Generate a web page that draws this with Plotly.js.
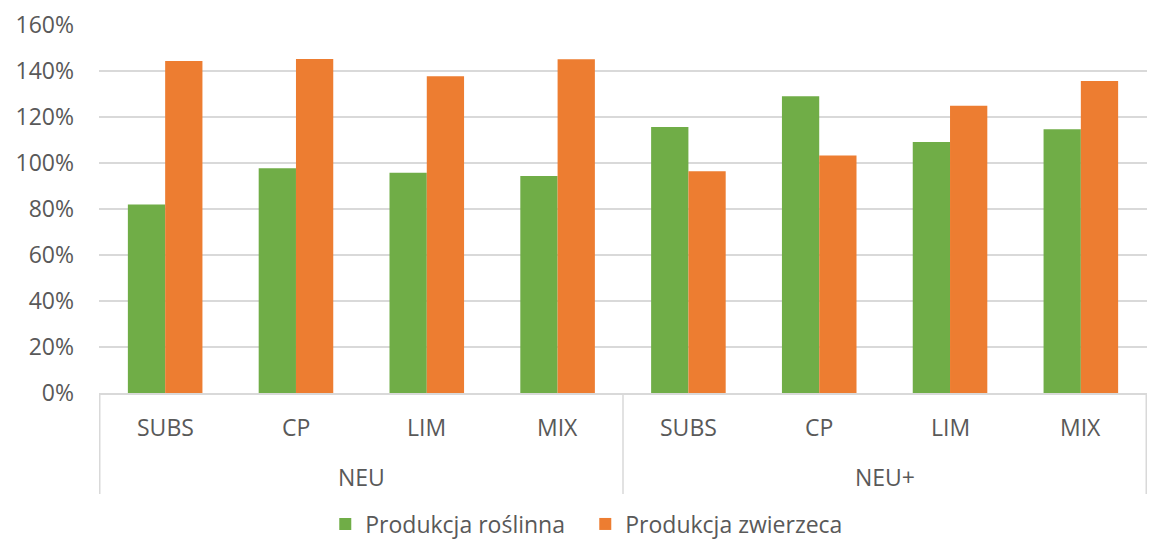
<!DOCTYPE html>
<html>
<head>
<meta charset="utf-8">
<script src="https://cdn.plot.ly/plotly-3.0.1.min.js"></script>
<style>html,body{margin:0;padding:0;background:#fff;}#chart{width:1151px;height:541px;}</style>
</head>
<body>
<div id="chart"></div>
<script>
const groups = ["NEU","NEU","NEU","NEU","NEU+","NEU+","NEU+","NEU+"];
const scenarios = ["SUBS","CP","LIM","MIX","SUBS","CP","LIM","MIX"];
const groupNames = ["NEU","NEU+"];
const seriesNames = ["Produkcja roślinna","Produkcja zwierzeca"];
const roslinna = [82.0, 97.7, 95.8, 94.3, 115.7, 129.0, 109.1, 114.7];
const zwierzeca = [144.3, 145.2, 137.7, 145.1, 96.4, 103.3, 124.9, 135.7];
const yTicks = [0,20,40,60,80,100,120,140,160];
const yTickText = yTicks.map(v => v + "%");

const font = {family: "Open Sans, sans-serif", size: 23, color: "#595959"};
const traces = [
  {type:"bar", name: seriesNames[0], x:[groups, scenarios], y: roslinna, marker:{color:"#70AD47"}},
  {type:"bar", name: seriesNames[1], x:[groups, scenarios], y: zwierzeca, marker:{color:"#ED7D31"}}
];

const plotH = 541 - 25 - 148;
const annotations = [];
scenarios.forEach((s, i) => {
  annotations.push({xref:"x", yref:"paper", x:i, y:-(427-393)/plotH, text:s, showarrow:false,
    xanchor:"center", yanchor:"middle", font:font});
});
groupNames.forEach((g, gi) => {
  const idx = groups.map((v,i)=>v===g?i:-1).filter(i=>i>=0);
  const mid = (idx[0] + idx[idx.length-1]) / 2;
  annotations.push({xref:"x", yref:"paper", x:mid, y:-(477-393)/plotH, text:g, showarrow:false,
    xanchor:"center", yanchor:"middle", font:font});
});
const shapes = [];
const bounds = [-0.5];
groupNames.forEach(g => { bounds.push(groups.lastIndexOf(g) + 0.5); });
bounds.forEach(b => {
  shapes.push({type:"line", xref:"x", yref:"paper", x0:b, x1:b, y0:0, y1:-(494-393)/plotH,
    line:{color:"#d9d9d9", width:1.5}});
});

const layout = {
  width:1151, height:541,
  margin:{l:99, r:4, t:25, b:148, autoexpand:false},
  paper_bgcolor:"#fff", plot_bgcolor:"#fff",
  font: font,
  barmode:"group", bargap:0.43, bargroupgap:0,
  showlegend:true,
  legend:{orientation:"h", x:0.464, xanchor:"center", yref:"paper", y:-(524-393)/plotH, yanchor:"middle",
          font:font, itemwidth:30, entrywidth:215},
  xaxis:{type:"multicategory", showgrid:false, showline:true, linecolor:"#d9d9d9", linewidth:1.5,
         showticklabels:false, showdividers:false, ticks:"", automargin:false},
  yaxis:{range:[0,160], tickvals:yTicks, ticktext:yTickText, showgrid:true, gridcolor:"#d9d9d9", gridwidth:1.5,
         zeroline:false, showline:false, tickfont:font, ticks:"", ticklabelstandoff:24, automargin:false},
  annotations: annotations,
  shapes: shapes
};
Plotly.newPlot("chart", traces, layout, {displayModeBar:false, staticPlot:true});
</script>
</body>
</html>
